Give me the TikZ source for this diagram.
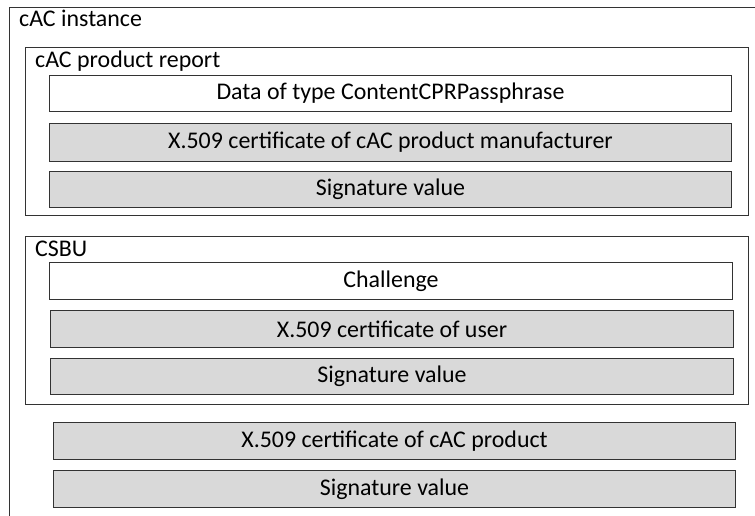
\documentclass[tikz,border=0pt]{standalone}
\usepackage{fontspec}
\setmainfont{Carlito}
\definecolor{boxgray}{HTML}{D9D9D9}
\definecolor{linegray}{HTML}{333333}
\tikzset{
  container/.style={draw=linegray, line width=1bp},
  item/.style={draw=linegray, line width=1bp, anchor=north west, inner sep=0pt, font=\fontsize{24}{28}\selectfont},
  grayitem/.style={item, fill=boxgray},
  whiteitem/.style={item, fill=white},
  title/.style={anchor=base west, inner sep=0pt, font=\fontsize{24}{28}\selectfont}
}
\begin{document}
\begin{tikzpicture}[x=1bp,y=-1bp]
\useasboundingbox (0,0) rectangle (755,516);
\clip (0,0) rectangle (755,516);
% outer instance
\draw[container] (9,8) rectangle (770,530);
\node[title] (tinst) at (19,27) {cAC instance};
% product report
\draw[container] (25,48) rectangle (748,216);
\node[title] (trep) at (35,68) {cAC product report};
\node[whiteitem, minimum width=682bp, minimum height=36bp] (data) at (49,75) {Data of type ContentCPRPassphrase};
\node[grayitem, minimum width=682bp, minimum height=38bp] (cert1) at (49,123) {X.509 certificate of cAC product manufacturer};
\node[grayitem, minimum width=682bp, minimum height=36bp] (sig1) at (49,171) {Signature value};
% CSBU
\draw[container] (25,237) rectangle (748,404);
\node[title] (tcsbu) at (35,257) {CSBU};
\node[whiteitem, minimum width=683bp, minimum height=37bp] (chal) at (49,262) {Challenge};
\node[grayitem, minimum width=683bp, minimum height=37bp] (cert2) at (50,310) {X.509 certificate of user};
\node[grayitem, minimum width=683bp, minimum height=36bp] (sig2) at (50,358) {Signature value};
% product
\node[grayitem, minimum width=682bp, minimum height=37bp] (cert3) at (53,422) {X.509 certificate of cAC product};
\node[grayitem, minimum width=682bp, minimum height=37bp] (sig3) at (53,470) {Signature value};
\end{tikzpicture}
\end{document}
